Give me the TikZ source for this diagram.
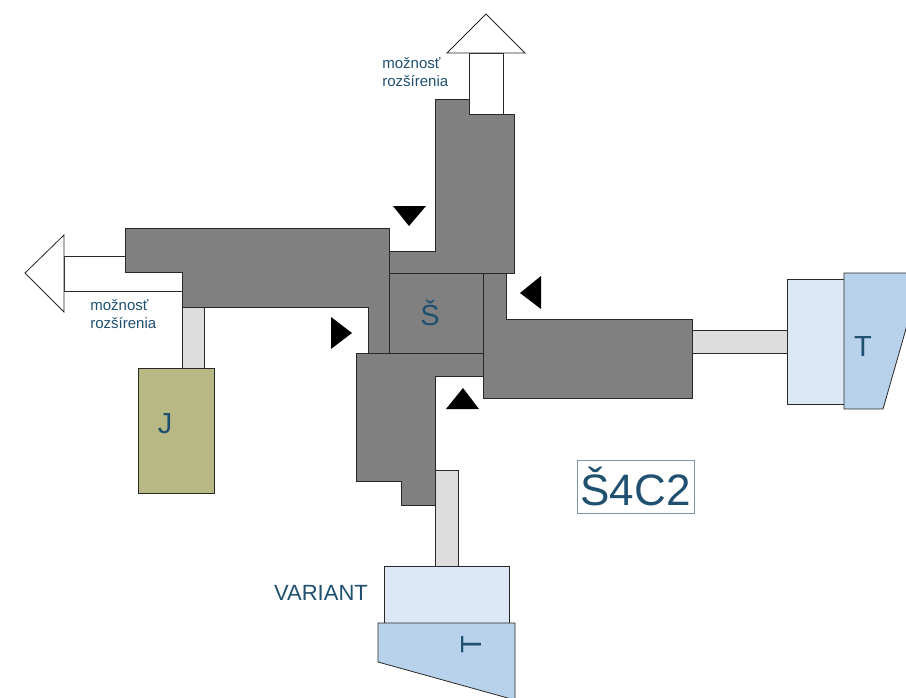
\documentclass[tikz,border=0pt]{standalone}
\usepackage{fontspec}
\setmainfont{Liberation Sans}
\definecolor{txt}{RGB}{31,80,112}
\definecolor{armgray}{RGB}{128,128,128}
\definecolor{edgec}{RGB}{40,40,40}
\definecolor{shaftgray}{RGB}{221,221,221}
\definecolor{lightblue}{RGB}{220,232,245}
\definecolor{midblue}{RGB}{184,210,235}
\definecolor{olive}{RGB}{184,184,133}
\definecolor{boxedge}{RGB}{120,150,170}
\begin{document}
\begin{tikzpicture}[x=1pt,y=-1pt,line width=0.8pt,
  arm/.style={fill=armgray,draw=edgec},
  hollow/.style={fill=white,draw=edgec},
  shaft/.style={fill=shaftgray,draw=edgec},
  lblue/.style={fill=lightblue,draw=edgec},
  mblue/.style={fill=midblue,draw=edgec},
  jbox/.style={fill=olive,draw=edgec},
  marker/.style={fill=black,draw=none},
  small/.style={text=txt,font=\fontsize{15}{18}\selectfont,align=left,inner sep=0pt},
  big/.style={text=txt,font=\fontsize{29}{32}\selectfont,inner sep=0pt}]
\useasboundingbox (0,0) rectangle (906,697);
\clip (0,0) rectangle (906,697);
\fill[white] (0,0) rectangle (906,697);

% expansion arrows
\draw[hollow] (469,53) rectangle (503,114);
\draw[hollow] (447,53) -- (486,14) -- (525,53) -- cycle;
\draw[hollow] (64,256) rectangle (182,291);
\draw[hollow] (64,235) -- (25,273) -- (64,312) -- cycle;

% shafts
\draw[shaft] (182,307) rectangle (204,368);
\draw[shaft] (435,470) rectangle (458,566);
\draw[shaft] (692,330) rectangle (787,353);

% gray arms
\draw[arm] (389,273) rectangle (483,353);
\draw[arm] (435,99) -- (469,99) -- (469,114) -- (514,114) -- (514,273) -- (389,273) -- (389,251) -- (435,251) -- cycle;
\draw[arm] (125,228) -- (389,228) -- (389,353) -- (368,353) -- (368,307) -- (182,307) -- (182,272) -- (125,272) -- cycle;
\draw[arm] (483,273) -- (506,273) -- (506,319) -- (692,319) -- (692,398) -- (483,398) -- cycle;
\draw[arm] (356,353) -- (483,353) -- (483,376) -- (435,376) -- (435,505) -- (401,505) -- (401,481) -- (356,481) -- cycle;

% J box
\draw[jbox] (138,368) rectangle (214,493);

% right unit
\draw[lblue] (787,279) rectangle (844,404);
\draw[mblue] (844,273) -- (922,273) -- (883,409) -- (844,409) -- cycle;

% bottom unit
\draw[lblue] (384,566) rectangle (509,623);
\draw[mblue] (378,623) -- (515,623) -- (515,700) -- (378,662) -- cycle;

% direction markers
\fill[marker] (393,206) -- (426,206) -- (409,226) -- cycle;
\fill[marker] (331,317) -- (352,333) -- (331,349) -- cycle;
\fill[marker] (541,276) -- (520,293) -- (541,309) -- cycle;
\fill[marker] (446,409) -- (463,388) -- (479,409) -- cycle;

% labels
\node[small,anchor=west] (ltop) at (382,72) {možnosť\\rozšírenia};
\node[small,anchor=west] (lwest) at (90,314) {možnosť\\rozšírenia};
\node[big] (lS) at (430,313) {Š};
\node[big] (lJ) at (165,424) {J};
\node[big] (lT) at (863,347) {T};
\node[big,rotate=90] (lT2) at (472,645) {T};
\node[text=txt,font=\fontsize{22}{24}\selectfont,inner sep=0pt] (lvar) at (321,593) {VARIANT};
\node[draw=boxedge,line width=0.6pt,text=txt,font=\fontsize{44}{46}\selectfont,
      minimum width=117pt,minimum height=53pt,inner sep=0pt] (lcode) at (635.5,486.5) {Š4C2};
\end{tikzpicture}
\end{document}
